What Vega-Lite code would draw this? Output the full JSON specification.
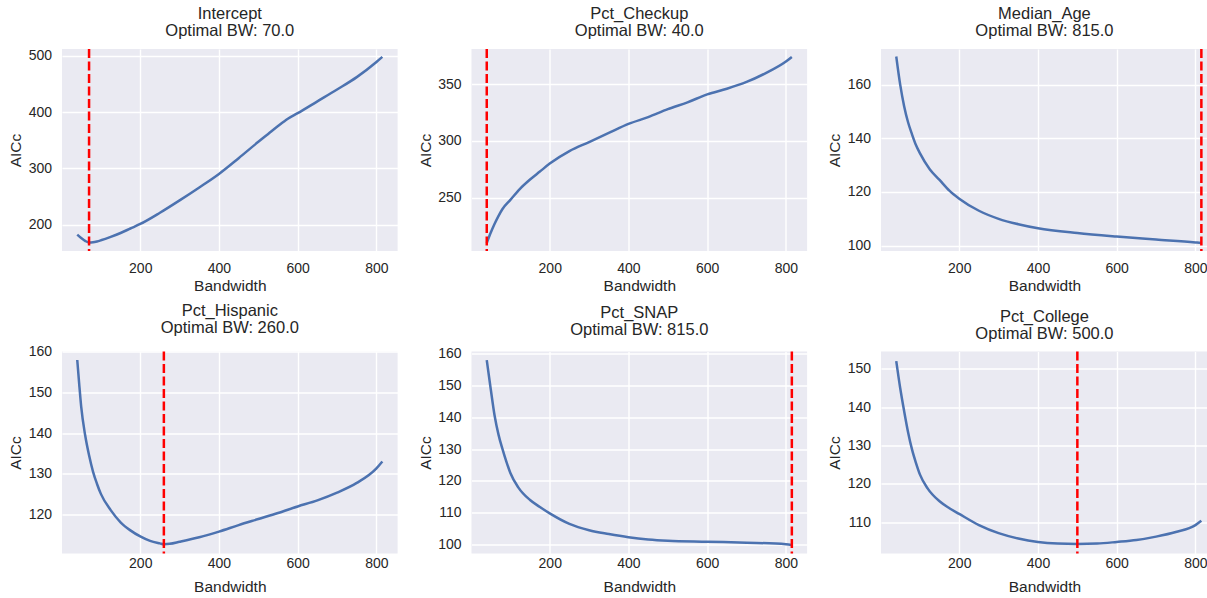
{
  "$schema": "https://vega.github.io/schema/vega-lite/v6.json",
  "background": "white",
  "padding": {"left": 8, "top": 6, "right": 0, "bottom": 0},
  "autosize": {"type": "pad"},
  "config": {
    "font": "Liberation Sans",
    "view": {"fill": "#EAEAF2", "stroke": null},
    "axis": {"grid": true, "gridColor": "white", "gridWidth": 1.4, "domain": false, "ticks": false, "tickSize": 0, "labelFontSize": 14, "labelColor": "#262626", "titleFontSize": 15.5, "titleFontWeight": "normal", "titleColor": "#262626", "labelFlush": false, "labelOverlap": false},
    "axisX": {"labelPadding": 10, "titlePadding": 3.2},
    "axisY": {"labelPadding": 10.5, "titlePadding": 4.5},
    "title": {"fontSize": 16.5, "fontWeight": "normal", "color": "#262626", "lineHeight": 17, "baseline": "bottom", "offset": 8, "anchor": "middle", "frame": "group"}
  },
  "datasets": {
    "curves": [
      {"p": "Intercept", "bw": 40, "aicc": 182}, {"p": "Intercept", "bw": 50, "aicc": 176}, {"p": "Intercept", "bw": 60, "aicc": 171}, {"p": "Intercept", "bw": 70, "aicc": 168}, {"p": "Intercept", "bw": 80, "aicc": 168.5}, {"p": "Intercept", "bw": 90, "aicc": 170}, {"p": "Intercept", "bw": 100, "aicc": 172}, {"p": "Intercept", "bw": 125, "aicc": 178}, {"p": "Intercept", "bw": 150, "aicc": 185}, {"p": "Intercept", "bw": 175, "aicc": 193}, {"p": "Intercept", "bw": 200, "aicc": 201}, {"p": "Intercept", "bw": 250, "aicc": 221}, {"p": "Intercept", "bw": 300, "aicc": 243}, {"p": "Intercept", "bw": 350, "aicc": 266}, {"p": "Intercept", "bw": 400, "aicc": 290}, {"p": "Intercept", "bw": 450, "aicc": 318}, {"p": "Intercept", "bw": 500, "aicc": 347}, {"p": "Intercept", "bw": 525, "aicc": 361}, {"p": "Intercept", "bw": 550, "aicc": 375}, {"p": "Intercept", "bw": 575, "aicc": 388}, {"p": "Intercept", "bw": 600, "aicc": 398}, {"p": "Intercept", "bw": 650, "aicc": 419}, {"p": "Intercept", "bw": 700, "aicc": 440}, {"p": "Intercept", "bw": 750, "aicc": 462}, {"p": "Intercept", "bw": 800, "aicc": 489}, {"p": "Intercept", "bw": 815, "aicc": 498},
      {"p": "Pct_Checkup", "bw": 40, "aicc": 210}, {"p": "Pct_Checkup", "bw": 50, "aicc": 219}, {"p": "Pct_Checkup", "bw": 60, "aicc": 227}, {"p": "Pct_Checkup", "bw": 70, "aicc": 234}, {"p": "Pct_Checkup", "bw": 80, "aicc": 240}, {"p": "Pct_Checkup", "bw": 100, "aicc": 248}, {"p": "Pct_Checkup", "bw": 125, "aicc": 258}, {"p": "Pct_Checkup", "bw": 150, "aicc": 266}, {"p": "Pct_Checkup", "bw": 175, "aicc": 273}, {"p": "Pct_Checkup", "bw": 200, "aicc": 280}, {"p": "Pct_Checkup", "bw": 250, "aicc": 291}, {"p": "Pct_Checkup", "bw": 300, "aicc": 299}, {"p": "Pct_Checkup", "bw": 350, "aicc": 307}, {"p": "Pct_Checkup", "bw": 400, "aicc": 315}, {"p": "Pct_Checkup", "bw": 450, "aicc": 321}, {"p": "Pct_Checkup", "bw": 500, "aicc": 328}, {"p": "Pct_Checkup", "bw": 550, "aicc": 334}, {"p": "Pct_Checkup", "bw": 600, "aicc": 341}, {"p": "Pct_Checkup", "bw": 650, "aicc": 346}, {"p": "Pct_Checkup", "bw": 700, "aicc": 352}, {"p": "Pct_Checkup", "bw": 750, "aicc": 360}, {"p": "Pct_Checkup", "bw": 800, "aicc": 370}, {"p": "Pct_Checkup", "bw": 815, "aicc": 374},
      {"p": "Median_Age", "bw": 40, "aicc": 170.5}, {"p": "Median_Age", "bw": 50, "aicc": 160}, {"p": "Median_Age", "bw": 60, "aicc": 152}, {"p": "Median_Age", "bw": 70, "aicc": 146}, {"p": "Median_Age", "bw": 80, "aicc": 141.5}, {"p": "Median_Age", "bw": 90, "aicc": 137.5}, {"p": "Median_Age", "bw": 100, "aicc": 134.5}, {"p": "Median_Age", "bw": 125, "aicc": 128.5}, {"p": "Median_Age", "bw": 150, "aicc": 124.5}, {"p": "Median_Age", "bw": 175, "aicc": 120.5}, {"p": "Median_Age", "bw": 200, "aicc": 117.5}, {"p": "Median_Age", "bw": 250, "aicc": 113}, {"p": "Median_Age", "bw": 300, "aicc": 110}, {"p": "Median_Age", "bw": 350, "aicc": 108}, {"p": "Median_Age", "bw": 400, "aicc": 106.5}, {"p": "Median_Age", "bw": 500, "aicc": 104.7}, {"p": "Median_Age", "bw": 600, "aicc": 103.4}, {"p": "Median_Age", "bw": 700, "aicc": 102.3}, {"p": "Median_Age", "bw": 800, "aicc": 101.2}, {"p": "Median_Age", "bw": 815, "aicc": 101},
      {"p": "Pct_Hispanic", "bw": 40, "aicc": 158}, {"p": "Pct_Hispanic", "bw": 45, "aicc": 152}, {"p": "Pct_Hispanic", "bw": 50, "aicc": 146.5}, {"p": "Pct_Hispanic", "bw": 60, "aicc": 139.5}, {"p": "Pct_Hispanic", "bw": 70, "aicc": 134.5}, {"p": "Pct_Hispanic", "bw": 80, "aicc": 130.5}, {"p": "Pct_Hispanic", "bw": 90, "aicc": 127.5}, {"p": "Pct_Hispanic", "bw": 100, "aicc": 125}, {"p": "Pct_Hispanic", "bw": 125, "aicc": 121}, {"p": "Pct_Hispanic", "bw": 150, "aicc": 118}, {"p": "Pct_Hispanic", "bw": 175, "aicc": 116}, {"p": "Pct_Hispanic", "bw": 200, "aicc": 114.5}, {"p": "Pct_Hispanic", "bw": 225, "aicc": 113.4}, {"p": "Pct_Hispanic", "bw": 250, "aicc": 112.8}, {"p": "Pct_Hispanic", "bw": 260, "aicc": 112.6}, {"p": "Pct_Hispanic", "bw": 275, "aicc": 112.7}, {"p": "Pct_Hispanic", "bw": 300, "aicc": 113.2}, {"p": "Pct_Hispanic", "bw": 350, "aicc": 114.3}, {"p": "Pct_Hispanic", "bw": 400, "aicc": 115.7}, {"p": "Pct_Hispanic", "bw": 450, "aicc": 117.3}, {"p": "Pct_Hispanic", "bw": 500, "aicc": 118.8}, {"p": "Pct_Hispanic", "bw": 550, "aicc": 120.3}, {"p": "Pct_Hispanic", "bw": 600, "aicc": 121.9}, {"p": "Pct_Hispanic", "bw": 650, "aicc": 123.4}, {"p": "Pct_Hispanic", "bw": 700, "aicc": 125.3}, {"p": "Pct_Hispanic", "bw": 750, "aicc": 127.7}, {"p": "Pct_Hispanic", "bw": 800, "aicc": 131.3}, {"p": "Pct_Hispanic", "bw": 815, "aicc": 133},
      {"p": "Pct_SNAP", "bw": 40, "aicc": 158}, {"p": "Pct_SNAP", "bw": 50, "aicc": 149}, {"p": "Pct_SNAP", "bw": 60, "aicc": 140.5}, {"p": "Pct_SNAP", "bw": 70, "aicc": 134.5}, {"p": "Pct_SNAP", "bw": 80, "aicc": 130}, {"p": "Pct_SNAP", "bw": 90, "aicc": 126}, {"p": "Pct_SNAP", "bw": 100, "aicc": 122.5}, {"p": "Pct_SNAP", "bw": 120, "aicc": 118}, {"p": "Pct_SNAP", "bw": 150, "aicc": 114}, {"p": "Pct_SNAP", "bw": 175, "aicc": 111.8}, {"p": "Pct_SNAP", "bw": 200, "aicc": 109.8}, {"p": "Pct_SNAP", "bw": 250, "aicc": 106.5}, {"p": "Pct_SNAP", "bw": 300, "aicc": 104.5}, {"p": "Pct_SNAP", "bw": 350, "aicc": 103.3}, {"p": "Pct_SNAP", "bw": 400, "aicc": 102.3}, {"p": "Pct_SNAP", "bw": 450, "aicc": 101.6}, {"p": "Pct_SNAP", "bw": 500, "aicc": 101.2}, {"p": "Pct_SNAP", "bw": 600, "aicc": 100.9}, {"p": "Pct_SNAP", "bw": 700, "aicc": 100.6}, {"p": "Pct_SNAP", "bw": 800, "aicc": 100.1}, {"p": "Pct_SNAP", "bw": 815, "aicc": 99.9},
      {"p": "Pct_College", "bw": 40, "aicc": 152}, {"p": "Pct_College", "bw": 50, "aicc": 145}, {"p": "Pct_College", "bw": 60, "aicc": 139}, {"p": "Pct_College", "bw": 70, "aicc": 133.5}, {"p": "Pct_College", "bw": 80, "aicc": 129}, {"p": "Pct_College", "bw": 90, "aicc": 125.5}, {"p": "Pct_College", "bw": 100, "aicc": 122.5}, {"p": "Pct_College", "bw": 120, "aicc": 118.8}, {"p": "Pct_College", "bw": 150, "aicc": 115.5}, {"p": "Pct_College", "bw": 175, "aicc": 113.7}, {"p": "Pct_College", "bw": 200, "aicc": 112.2}, {"p": "Pct_College", "bw": 250, "aicc": 109.3}, {"p": "Pct_College", "bw": 300, "aicc": 107.2}, {"p": "Pct_College", "bw": 350, "aicc": 105.8}, {"p": "Pct_College", "bw": 400, "aicc": 104.9}, {"p": "Pct_College", "bw": 450, "aicc": 104.5}, {"p": "Pct_College", "bw": 500, "aicc": 104.4}, {"p": "Pct_College", "bw": 550, "aicc": 104.5}, {"p": "Pct_College", "bw": 600, "aicc": 104.9}, {"p": "Pct_College", "bw": 650, "aicc": 105.4}, {"p": "Pct_College", "bw": 700, "aicc": 106.3}, {"p": "Pct_College", "bw": 750, "aicc": 107.5}, {"p": "Pct_College", "bw": 800, "aicc": 109.3}, {"p": "Pct_College", "bw": 815, "aicc": 110.4}
    ],
    "opt": [
      {"p": "Intercept", "bw": 70}, {"p": "Pct_Checkup", "bw": 40}, {"p": "Median_Age", "bw": 815},
      {"p": "Pct_Hispanic", "bw": 260}, {"p": "Pct_SNAP", "bw": 815}, {"p": "Pct_College", "bw": 500}
    ]
  },
  "columns": 3,
  "spacing": {"row": 100.5, "column": 73.5},
  "bounds": "flush",
  "concat": [
    {
      "width": 335.6, "height": 202,
      "title": {"text": ["Intercept", "Optimal BW: 70.0"]},
      "layer": [
        {"data": {"name": "curves"}, "transform": [{"filter": "datum.p === 'Intercept'"}],
         "mark": {"type": "line", "color": "#4C72B0", "strokeWidth": 2.5, "interpolate": "monotone"},
         "encoding": {
           "x": {"field": "bw", "type": "quantitative", "scale": {"domain": [1.25, 853.75], "nice": false, "zero": false}, "axis": {"values": [200, 400, 600, 800], "title": "Bandwidth"}},
           "y": {"field": "aicc", "type": "quantitative", "scale": {"domain": [153, 512], "nice": false, "zero": false}, "axis": {"values": [200, 300, 400, 500], "title": "AICc"}}}},
        {"data": {"name": "opt"}, "transform": [{"filter": "datum.p === 'Intercept'"}],
         "mark": {"type": "rule", "color": "#FF0000", "strokeWidth": 2.5, "strokeDash": [9, 3.5]},
         "encoding": {"x": {"field": "bw", "type": "quantitative"}}}
      ]
    },
    {
      "width": 335.6, "height": 202,
      "title": {"text": ["Pct_Checkup", "Optimal BW: 40.0"]},
      "layer": [
        {"data": {"name": "curves"}, "transform": [{"filter": "datum.p === 'Pct_Checkup'"}],
         "mark": {"type": "line", "color": "#4C72B0", "strokeWidth": 2.5, "interpolate": "monotone"},
         "encoding": {
           "x": {"field": "bw", "type": "quantitative", "scale": {"domain": [1.25, 853.75], "nice": false, "zero": false}, "axis": {"values": [200, 400, 600, 800], "title": "Bandwidth"}},
           "y": {"field": "aicc", "type": "quantitative", "scale": {"domain": [203, 381], "nice": false, "zero": false}, "axis": {"values": [250, 300, 350], "title": "AICc"}}}},
        {"data": {"name": "opt"}, "transform": [{"filter": "datum.p === 'Pct_Checkup'"}],
         "mark": {"type": "rule", "color": "#FF0000", "strokeWidth": 2.5, "strokeDash": [9, 3.5]},
         "encoding": {"x": {"field": "bw", "type": "quantitative"}}}
      ]
    },
    {
      "width": 326.9, "height": 202,
      "title": {"text": ["Median_Age", "Optimal BW: 815.0"]},
      "layer": [
        {"data": {"name": "curves"}, "transform": [{"filter": "datum.p === 'Median_Age'"}],
         "mark": {"type": "line", "color": "#4C72B0", "strokeWidth": 2.5, "interpolate": "monotone"},
         "encoding": {
           "x": {"field": "bw", "type": "quantitative", "scale": {"domain": [1.25, 831.6], "nice": false, "zero": false}, "axis": {"values": [200, 400, 600, 800], "title": "Bandwidth"}},
           "y": {"field": "aicc", "type": "quantitative", "scale": {"domain": [98, 173.3], "nice": false, "zero": false}, "axis": {"values": [100, 120, 140, 160], "title": "AICc"}}}},
        {"data": {"name": "opt"}, "transform": [{"filter": "datum.p === 'Median_Age'"}],
         "mark": {"type": "rule", "color": "#FF0000", "strokeWidth": 2.5, "strokeDash": [9, 3.5]},
         "encoding": {"x": {"field": "bw", "type": "quantitative"}}}
      ]
    },
    {
      "width": 335.6, "height": 202,
      "title": {"text": ["Pct_Hispanic", "Optimal BW: 260.0"]},
      "layer": [
        {"data": {"name": "curves"}, "transform": [{"filter": "datum.p === 'Pct_Hispanic'"}],
         "mark": {"type": "line", "color": "#4C72B0", "strokeWidth": 2.5, "interpolate": "monotone"},
         "encoding": {
           "x": {"field": "bw", "type": "quantitative", "scale": {"domain": [1.25, 853.75], "nice": false, "zero": false}, "axis": {"values": [200, 400, 600, 800], "title": "Bandwidth", "labelPadding": 2.5, "titlePadding": 9.7}},
           "y": {"field": "aicc", "type": "quantitative", "scale": {"domain": [110.3, 160.1], "nice": false, "zero": false}, "axis": {"values": [120, 130, 140, 150, 160], "title": "AICc"}}}},
        {"data": {"name": "opt"}, "transform": [{"filter": "datum.p === 'Pct_Hispanic'"}],
         "mark": {"type": "rule", "color": "#FF0000", "strokeWidth": 2.5, "strokeDash": [9, 3.5]},
         "encoding": {"x": {"field": "bw", "type": "quantitative"}}}
      ]
    },
    {
      "width": 335.6, "height": 202,
      "title": {"text": ["Pct_SNAP", "Optimal BW: 815.0"]},
      "layer": [
        {"data": {"name": "curves"}, "transform": [{"filter": "datum.p === 'Pct_SNAP'"}],
         "mark": {"type": "line", "color": "#4C72B0", "strokeWidth": 2.5, "interpolate": "monotone"},
         "encoding": {
           "x": {"field": "bw", "type": "quantitative", "scale": {"domain": [1.25, 853.75], "nice": false, "zero": false}, "axis": {"values": [200, 400, 600, 800], "title": "Bandwidth", "labelPadding": 2.5, "titlePadding": 9.7}},
           "y": {"field": "aicc", "type": "quantitative", "scale": {"domain": [97.2, 160.7], "nice": false, "zero": false}, "axis": {"values": [100, 110, 120, 130, 140, 150, 160], "title": "AICc"}}}},
        {"data": {"name": "opt"}, "transform": [{"filter": "datum.p === 'Pct_SNAP'"}],
         "mark": {"type": "rule", "color": "#FF0000", "strokeWidth": 2.5, "strokeDash": [9, 3.5]},
         "encoding": {"x": {"field": "bw", "type": "quantitative"}}}
      ]
    },
    {
      "width": 326.9, "height": 202,
      "title": {"text": ["Pct_College", "Optimal BW: 500.0"]},
      "layer": [
        {"data": {"name": "curves"}, "transform": [{"filter": "datum.p === 'Pct_College'"}],
         "mark": {"type": "line", "color": "#4C72B0", "strokeWidth": 2.5, "interpolate": "monotone"},
         "encoding": {
           "x": {"field": "bw", "type": "quantitative", "scale": {"domain": [1.25, 831.6], "nice": false, "zero": false}, "axis": {"values": [200, 400, 600, 800], "title": "Bandwidth", "labelPadding": 2.5, "titlePadding": 9.7}},
           "y": {"field": "aicc", "type": "quantitative", "scale": {"domain": [101.9, 154.5], "nice": false, "zero": false}, "axis": {"values": [110, 120, 130, 140, 150], "title": "AICc"}}}},
        {"data": {"name": "opt"}, "transform": [{"filter": "datum.p === 'Pct_College'"}],
         "mark": {"type": "rule", "color": "#FF0000", "strokeWidth": 2.5, "strokeDash": [9, 3.5]},
         "encoding": {"x": {"field": "bw", "type": "quantitative"}}}
      ]
    }
  ]
}
